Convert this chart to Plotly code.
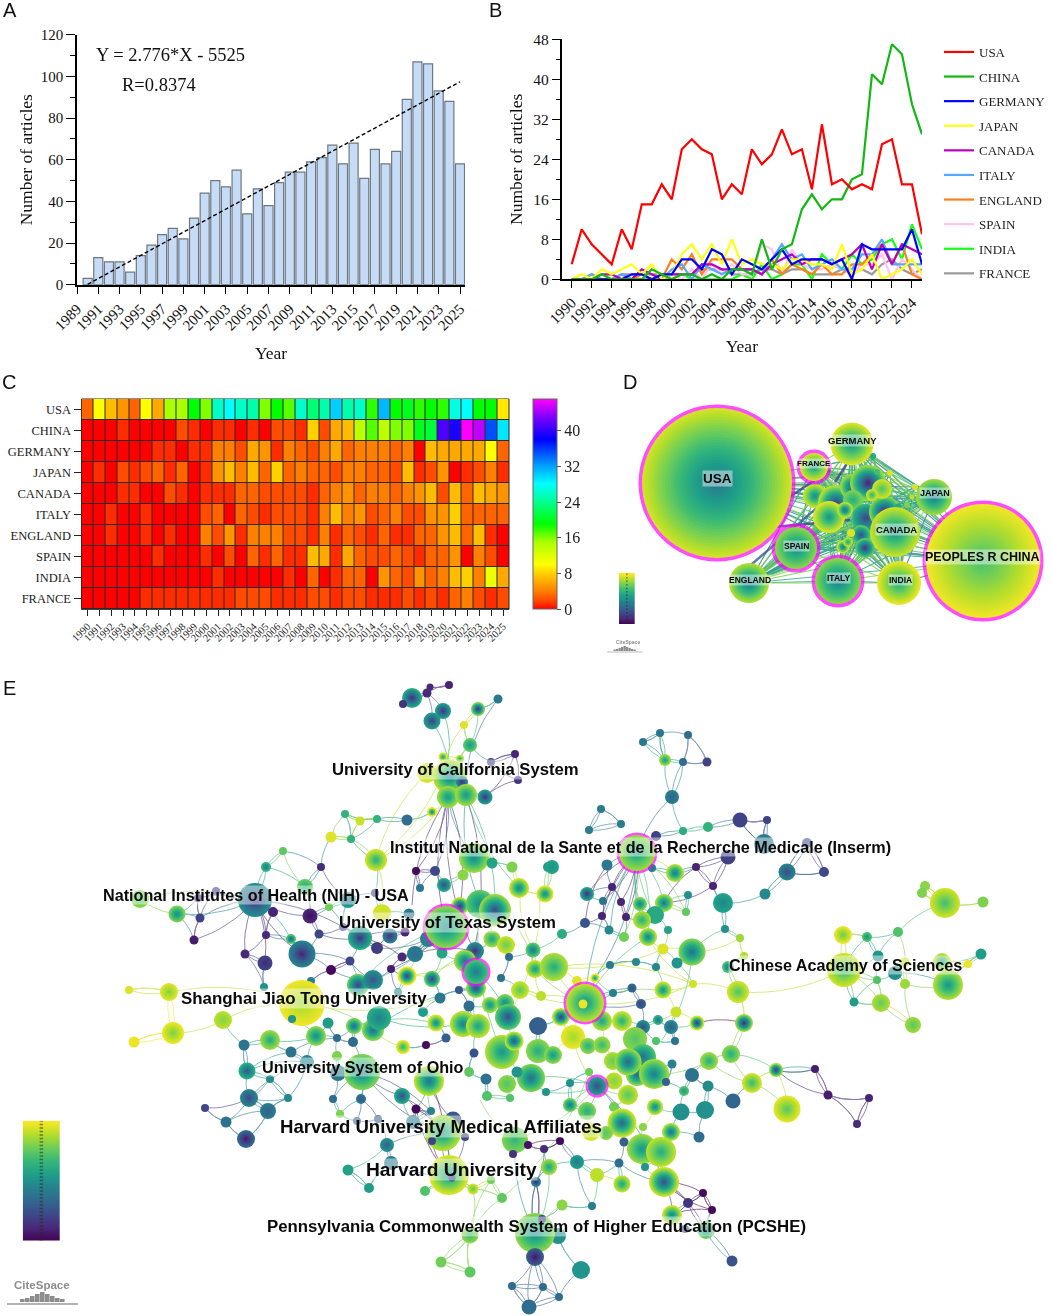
import math
import plotly.graph_objects as go
from plotly.colors import sample_colorscale

W, H = 1052, 1316
SERIF = "Liberation Serif"
SANS = "Liberation Sans"

# ---------- panel A ----------
a_years = list(range(1990, 2026))
a_counts = [3,13,11,11,6,14,19,24,27,22,32,44,50,47,55,34,46,38,49,54,54,59,61,67,58,68,51,65,58,64,89,107,106,93,88,58]
a_trend_x = [1990, 2025]
a_trend_y = [0.2, 97.4]

# ---------- panels B / C ----------
years = list(range(1990, 2026))
usa = [3,10,7,5,3,10,6,15,15,19,16,26,28,26,25,16,19,17,26,23,25,30,25,26,18,31,19,20,18,19,18,27,28,19,19,9]
china = [0,0,0,1,0,0,0,0,2,1,0,1,1,0,1,0,2,2,1,8,2,6,7,14,17,14,16,16,20,21,41,39,47,45,35,29]
germany = [0,0,0,0,0,0,1,1,0,1,1,4,4,2,6,5,1,4,3,2,4,6,3,4,4,4,3,4,0,7,6,6,6,6,10,3]
japan = [0,1,0,2,1,2,3,1,3,0,1,5,7,4,7,3,8,3,4,3,3,2,4,4,3,3,2,7,1,2,5,0,1,2,4,1]
canada = [0,0,0,1,1,0,0,2,1,0,1,1,1,3,3,2,2,2,2,1,3,4,5,3,4,4,3,4,5,7,2,7,3,7,6,5]
italy = [0,0,1,0,0,1,0,0,0,0,2,3,0,3,2,1,2,2,2,1,4,7,4,5,2,3,4,2,2,5,5,8,3,3,3,3]
england = [0,0,1,0,0,1,0,1,0,0,4,2,5,1,4,4,4,2,2,1,4,1,3,2,1,3,1,1,3,3,5,7,3,7,1,0]
spain = [0,0,0,0,0,0,1,0,0,0,1,0,2,0,3,1,3,1,1,7,6,1,6,3,2,2,3,2,1,3,3,5,0,4,2,0]
india = [0,0,0,0,0,0,0,0,0,0,0,1,0,0,0,0,0,1,0,3,0,1,3,3,0,5,3,2,5,3,4,7,8,4,11,6]
france = [0,0,0,0,0,1,1,1,1,1,1,1,1,2,2,2,1,1,1,2,2,1,2,2,1,1,1,2,1,2,1,3,4,2,1,2]
countries = ["USA","CHINA","GERMANY","JAPAN","CANADA","ITALY","ENGLAND","SPAIN","INDIA","FRANCE"]
series = [usa,china,germany,japan,canada,italy,england,spain,india,france]
line_colors = ["#FF0000","#12B812","#0000FF","#FFFF14","#BB00BB","#55A8FF","#FF8014","#FFC4EE","#14FF14","#9A9A9A"]
heat_scale = [[0,"#FF0000"],[1/47,"#FF2C00"],[2/47,"#FF4C00"],[3/47,"#FF6400"],[4/47,"#FF8000"],[5/47,"#FF9400"],[8/47,"#FFD000"],[10/47,"#FFFF00"],[15/47,"#AAFF00"],
              [19/47,"#00FF00"],[24/47,"#00FF90"],[28/47,"#00FFFF"],[32/47,"#00A0FF"],[38/47,"#0000FF"],[43/47,"#8000FF"],[1,"#FF00FF"]]

# ---------- panel D network: x, y, radius, outer tone, inner tone ----------
d_main = [("USA",717,483,75,.93,.4,True),("PEOPLES R CHINA",983,561,57,.98,.7,True),("GERMANY",852,444,21.5,.95,.5,False),
          ("FRANCE",814,467,14,.93,.55,True),("JAPAN",934,497,18,.85,.4,False),("CANADA",895,532,25,.92,.5,False),
          ("SPAIN",796,548,21,.82,.47,True),("ITALY",838,581,23,.82,.42,True),("INDIA",899,583,22,.97,.6,False),
          ("ENGLAND",749,583,20,.88,.4,False)]
d_cluster = [(815,496,12,.92,.45),(836,503,18,.9,.15),(829,517,16,.95,.5),(853,487,13,.85,.2),(868,483,18,.85,.05),(853,500,10,.8,.6),
             (866,518,14,.65,.18),(885,512,16,.82,.05),(882,489,10,.93,.7),(872,495,6,.93,.6),(902,518,6,.9,.6),(898,507,3.5,.6,.6),
             (907,505,3,.8,.8),(861,535,10,.75,.2),(865,548,10,.75,.1),(843,547,6.5,.92,.3),(848,542,5,.9,.5),(851,533,4,.95,.95),
             (890,473,3,.95,.95),(877,472,3,.7,.7),(915,487,3,.95,.95),(912,497,2.5,.9,.9),(873,456,3,.6,.6),(845,510,8,.9,.3),(895,553,4,.6,.6)]
d_labels = [("USA",717,479,13.5),("PEOPLES R CHINA",982,557,12.5),("GERMANY",852,441,9.5),("FRANCE",814,464,8),("JAPAN",935,493,9),
            ("CANADA",896,529,9.5),("SPAIN",796,546,8.5),("ITALY",838,578,8.5),("INDIA",900,580,8.5),("ENGLAND",750,580,8.5)]

# ---------- panel E network: x, y, radius, outer tone, inner tone ----------
e_ucal = [(412,698,10,.6,.1),(427,693,4.5,.12),(430,687,3.5,.12),(449,685,4,.1),(403,704,4,.15),(443,711,8,.55,.1),(432,721,8.5,.55,.15),
          (478,709,7,.8,.05),(498,699,4.5,.4),(464,725,4,.95),(470,745,7,.75,.5),(427,773,10,.95,.85),(443,757,4.5,.95,.45),(460,759,4,.9,.5),
          (450,777,17,.9,.4),(462,782,6,.45,.1),(448,797,11,.85,.5),(466,795,11,.85,.5),(485,797,7.5,.55,.1),(491,762,4,.2),(515,754,4,.1),
          (518,780,4,.15),(432,812,5,.98,.3),(407,820,5.5,.35)]
e_west = [(345,814,4,.65),(360,821,4.5,.92),(377,819,4,.65),(331,837,5.5,.95),(351,839,4,.65),(376,860,11,.93,.6),(283,851,4,.75),(266,867,5,.65,.35),
          (321,867,4,.12),(305,887,8,.75,.6),(435,871,5,.22),(416,871,4,.02),(420,888,4,.4),(444,885,7,.6,.2),(474,858,15,.85,.45),(492,863,5.5,.58),
          (463,875,5.5,.82),(512,867,5.5,.8)]
e_nih = [(255,900,17,.5,.12),(140,899,9,.82,.7),(177,914,8.5,.8,.45),(200,918,4.5,.2),(194,940,4.5,.08),(198,898,4,.12),(216,891,4,.2),(273,912,5,.1),
         (310,916,7.5,.12,.02),(266,935,4,.12),(291,939,5,.72,.2),(302,954,13.5,.45,.08),(245,954,4.5,.12),(265,963,7.5,.2,.12),(319,934,4.5,.22),
         (348,900,8,.55,.3),(375,893,4,.2),(329,907,4,.78),(382,913,9,.93),(409,914,5.5,.4),(343,927,4,.2),(360,938,12,.62,.12),(390,936,7.5,.42,.12),
         (377,948,6,.18),(402,957,4.5,.12),(405,932,4.5,.1),(415,954,8,.42,.35),(350,961,4.5,.22),(331,970,5,.02),(391,969,4,.08),(407,976,9.5,.98,.12),
         (432,979,8,.75,.1),(442,953,5.5,.58),(428,939,8,.45)]
e_texas = [(519,888,10,.92,.4),(545,894,8.5,.95,.42),(548,867,5,.55),(460,906,9,.92,.05),(480,904,14,.75,.45),(495,910,16,.85,.2),
           (475,951,9,.5,.1),(465,961,11,.85,.35),(476,988,10,.85,.15),(358,985,11,.75,.15),(373,980,10,.5,.25),(311,981,4,.45),(264,987,4,.5),
           (169,992,9,.95,.8),(129,990,4,.95),(398,992,4,.48),(302,1003,23,.98,.85),(492,939,8.5,.85,.55),(506,945,9,.92,.75),(562,934,5,.62),
           (533,950,7.5,.75,.35),(535,969,9,.92,.5),(554,967,14,.88,.6),(509,957,4,.35),(520,990,9,.92,.72),(501,978,4,.37),(459,990,4,.28),(440,998,5.5,.4)]
e_centre = [(577,981,5,.95),(595,978,4.5,.98,.4),(541,996,5,.9),(561,1017,9,.92,.1),(602,1021,10,.88,.55),(613,993,4,.45),(610,965,4,.42),(585,923,5,.27),
            (609,930,4.5,.47),(602,916,4,.1),(587,894,7,.58,.08),(490,1005,8,.85,.45),(505,1003,9,.8,.45),(508,1017,13,.75,.2),(469,1006,5.5,.35),
            (436,1023,8.5,.95,.42),(463,1024,13,.9,.4),(478,1026,12,.9,.55),(538,1026,9,.3),(573,1037,12,.97,.85),(588,1046,8,.82,.6),(602,1045,8.5,.85,.65),
            (423,1012,5,.55),(446,1038,4.5,.3),(426,1045,4,.03),(474,1053,4.5,.25),(403,1047,7,.96,.6),(502,1052,17,.88,.5),(514,1041,9.5,.9,.2),
            (538,1051,12,.82,.6),(553,1055,9,.82,.5)]
e_inserm = [(672,797,7,.42,.3),(601,809,4,.42),(621,824,4,.42),(589,830,4,.42),(683,831,4,.62),(708,827,5,.65),(740,820,7.5,.2),(767,820,4,.2),(656,836,5,.2),
            (764,844,10,.42,.35),(807,843,5,.25),(607,865,5.5,.4),(728,857,7.5,.2),(552,867,7,.58,.5),(675,873,9,.88,.35),(652,868,4,.42),(696,867,4,.1),
            (787,872,8.5,.45,.2),(824,872,5,.22),(713,886,4,.1),(612,887,4,.1),(765,894,5.5,.47),(723,903,10,.58,.45),(688,895,4,.5),(664,903,9,.85,.35),
            (640,904,7,.8,.4),(603,901,4,.38),(621,902,4,.1),(626,917,4,.1),(655,915,9,.6),(642,920,9,.88,.6),(686,912,4,.75),(648,937,9,.88,.4),(668,930,4,.58),
            (725,929,4,.5),(624,937,5,.78),(740,938,4,.85),(692,952,13.5,.8,.35),(663,949,5.5,.95),(677,963,5.5,.52),(636,962,4,.47),(656,967,4,.47),(744,956,4,.88),(728,967,6,.72,.35)]
e_north_east = [(665,760,6,.85,.5),(683,762,4,.35),(707,762,4.5,.2),(688,735,4,.35),(660,733,4,.4),(643,742,4,.4)]
e_cas = [(844,970,17,.93,.65),(843,935,9,.97,.75),(867,937,5,.72,.45),(898,932,5,.72),(878,956,5.5,.52),(945,903,15,.93,.68),(925,886,5,.82),(922,893,5,.8),
         (983,902,5.5,.8),(981,954,5.5,.55),(968,964,4,.97),(942,962,9,.9,.5),(905,962,4.5,.92),(895,973,7,.5),(948,985,15,.88,.5),(905,984,5,.85),(877,980,4,.72),
         (854,1002,4.5,.55),(881,1003,9,.87,.75),(913,1025,8,.85,.72)]
e_east = [(738,992,11,.93,.7),(663,990,8.5,.92,.45),(693,984,4,.93),(632,988,4.5,.35,.2),(641,1004,5,.3,.2),(676,1012,5.5,.92),(697,1023,7.5,.95,.02),
          (744,1023,9,.85,.05),(658,1020,5,.65,.3),(643,1027,7,.5,.2),(671,1027,7,.48,.25),(675,1041,4,.38),(635,1039,12,.82,.72),(656,1041,4,.72),(622,1021,10,.92,.6),
          (709,1061,9,.85,.6),(731,1054,9,.82,.6),(776,1070,7,.85,.08),(815,1069,4,.08),(752,1083,10,.93,.65),(828,1095,4.5,.08),(869,1098,4,.1),(787,1109,13.5,.96,.72),
          (857,1124,4,.12),(613,1061,9,.87,.75),(643,1057,13,.72,.35),(637,1075,11,.82,.3),(654,1074,15,.85,.4),(628,1062,13.5,.85,.3),(672,1064,4.5,.45),(692,1075,7,.38),
          (666,1082,4,.3),(708,1086,5.5,.48),(684,1091,5,.72,.5),(733,1101,7.5,.33),(614,1081,8.5,.9,.8),(589,1072,4,.78),(628,1095,10,.9,.72),(531,1078,14,.8,.35),
          (570,1083,4,.5),(546,1092,4,.52),(570,1105,7,.78,.35),(587,1111,9,.8,.6),(614,1107,5,.78),(655,1107,8,.9,.4),(681,1112,8.5,.5),(705,1110,9,.5)]
e_south = [(622,1123,14.5,.93,.3),(643,1127,4,.82),(671,1132,9,.88,.3),(699,1137,5.5,.35),(606,1133,7,.82,.72),(591,1132,9,.95,.85),(624,1142,4.5,.3),(642,1149,15,.85,.5),
           (661,1152,15,.9,.6),(645,1167,4,.52),(619,1163,4.5,.35),(597,1175,7,.9),(622,1184,8.5,.9,.55),(664,1182,15,.93,.2),(577,1162,7,.55,.4),(549,1167,8,.85,.55),
           (515,1140,13,.8,.65),(528,1145,4,.05),(560,1141,4,.02),(544,1149,4,.12),(513,1154,4,.15),(536,1182,5,.45,.02),(562,1205,5.5,.82),(592,1206,4,.42),(502,1198,5,.75),
           (703,1193,4,.03),(712,1210,4,.02),(688,1203,5,.15),(672,1215,10,.93,.4),(706,1230,9,.78,.3),(685,1229,4,.2),(732,1261,5.5,.25),(558,1236,8,.5),(535,1233,20,.82,.45),
           (542,1219,4,.2),(535,1257,9,.3,.03),(581,1270,9,.52),(512,1286,4,.35),(543,1287,4,.35),(559,1297,4,.35),(529,1307,7.5,.35)]
e_ohio = [(223,1020,9,.9,.8),(173,1033,11,.97,.78),(134,1042,5.5,.97),(292,1019,4,.52),(328,1023,5.5,.55),(354,1026,8,.8,.3),(373,1030,11,.82,.3),(379,1018,12,.62,.42),
          (270,1040,10,.85,.58),(316,1036,10,.82,.45),(337,1038,4,.35),(353,1042,5,.35),(244,1045,5.5,.38),(291,1052,5.5,.38),(337,1056,5,.8),(247,1071,8.5,.62,.25),(307,1062,7,.45),
          (338,1073,8,.4),(362,1072,18,.8,.42),(429,1081,15,.9,.35),(469,1072,5,.75),(486,1079,5.5,.37),(507,1084,9,.82,.72),(487,1096,5,.72),(510,1098,4,.72),(517,1072,5.5,.52),
          (270,1079,4,.47),(249,1098,9,.45,.2),(288,1098,4,.47),(268,1111,8,.42,.28),(205,1108,4,.22),(226,1122,5.5,.38),(246,1139,9,.35,.02),(333,1099,4,.35),(361,1099,5,.38,.25),
          (402,1096,8,.6,.2),(340,1114,4,.8),(416,1109,4.5,.02),(431,1111,4,.45),(453,1120,8.5,.28),(413,1122,7,.42),(378,1119,4,.3),(357,1121,4,.3),(443,1133,18,.88,.5),
          (432,1141,4,.2),(465,1137,4,.22),(387,1145,7,.5,.3),(391,1163,7,.42),(348,1170,5.5,.57),(369,1188,5,.55),(449,1175,20,.95,.5),(452,1178,3.5,.2),(425,1191,5,.72),
          (473,1189,5.5,.93,.7),(491,1180,4,.78),(470,1235,8.5,.82,.65),(441,1262,5.5,.78),(470,1272,5.5,.75)]
e_magenta = [(446,927,21,.82,.45),(476,972,12,.7,.4),(585,1003,19,.9,.5),(637,853,18,.85,.55),(597,1086,9,.55,.2)]
e_dots = [(583,1004,4.5,.97)]
# edges: x1, y1, x2, y2, tone
e_edges_north = [(448,797,446,927,.1),(448,797,460,906,.1),(466,795,481,905,.5),(448,797,435,871,.35),(466,795,519,888,.7),(448,797,376,860,.9),(427,773,376,860,.9),(466,795,495,909,.6),
                 (448,797,412,905,.15),(448,797,416,871,.1),(448,797,474,858,.5),(466,795,474,951,.1),(448,797,474,951,.12),(432,721,450,777,.6),(470,745,450,777,.8),(478,709,470,745,.7),
                 (498,699,466,775,.4),(443,711,448,760,.6),(464,725,445,765,.9),(485,797,518,780,.1),(485,797,515,754,.1),(491,762,515,754,.1),(351,839,376,860,.65),(345,814,351,839,.65),
                 (360,821,351,839,.9),(377,819,351,839,.65),(345,814,377,819,.65),(331,837,351,839,.9),(345,814,360,821,.9),(360,821,377,819,.9),(376,860,444,770,.9),(376,860,382,913,.9)]
e_edges_inserm = [(637,853,612,887,.1),(637,853,621,902,.1),(637,853,602,916,.1),(637,853,626,917,.1),(637,853,587,894,.1),(637,853,603,901,.2),(637,853,640,904,.6),(637,853,664,903,.7),
                  (637,853,652,868,.5),(637,853,675,873,.9),(637,853,642,920,.6),(637,853,648,937,.7),(637,853,655,915,.7),(637,853,686,912,.8),(637,853,610,930,.5),(637,853,624,937,.8),
                  (672,797,637,853,.4),(637,853,595,978,.45),(637,853,585,1003,.5),(585,923,607,865,.1),(696,867,664,903,.1),(713,886,664,903,.1),(728,857,696,867,.12),(728,857,713,886,.12),
                  (740,820,764,844,.2),(767,820,740,820,.2),(767,820,764,844,.25),(787,872,807,843,.3),(787,872,824,872,.25),(807,843,824,872,.25),(723,903,765,894,.5),(765,894,787,872,.5),
                  (672,797,683,762,.5),(672,797,665,765,.5),(665,760,643,742,.5),(665,760,660,733,.5),(683,762,688,735,.35),(688,735,707,762,.3),(643,742,660,733,.4),
                  (692,952,725,929,.7),(692,952,740,938,.9)]
e_edges_east = [(844,970,738,992,.95),(738,992,693,984,.95),(693,984,648,937,.95),(844,970,843,935,.9),(844,970,867,937,.6),(867,937,898,932,.6),(898,932,945,903,.7),(945,903,925,886,.8),(945,903,922,893,.8),
                (945,903,983,902,.8),(948,985,981,954,.5),(948,985,895,973,.5),(948,985,905,984,.8),(948,985,905,962,.9),(948,985,942,962,.7),(844,970,854,1002,.6),(844,970,881,1003,.8),
                (881,1003,913,1025,.8),(844,970,877,980,.7),(844,970,878,956,.5),(697,1023,744,1023,.05),(776,1070,815,1069,.08),(815,1069,828,1095,.1),(828,1095,869,1098,.12),(869,1098,857,1124,.12),
                (776,1070,828,1095,.1),(731,1054,776,1070,.7),(709,1061,752,1083,.8),(752,1083,787,1109,.8),(731,1054,752,1083,.85),(709,1061,654,1074,.8),(692,952,677,963,.7),(692,952,662,1040,.7)]
e_edges_south = [(449,1175,443,1133,.1),(449,1175,443,1133,.3),(449,1175,443,1133,.6),(449,1175,432,1141,.15),(449,1175,465,1137,.2),(449,1175,416,1109,.05),(443,1133,416,1109,.05),(429,1081,443,1133,.05),
                 (429,1081,453,1120,.2),(402,1096,443,1133,.2),(362,1072,402,1096,.2),(362,1072,431,1111,.25),(362,1072,443,1133,.3),(387,1145,443,1133,.4),(348,1170,387,1145,.55),(369,1188,348,1170,.5),
                 (391,1163,449,1175,.4),(535,1233,536,1182,.1),(535,1233,536,1182,.3),(535,1233,536,1182,.5),(535,1233,536,1182,.02),(535,1233,562,1205,.8),(535,1233,549,1167,.7),(535,1257,512,1286,.35),
                 (535,1257,543,1287,.35),(535,1257,559,1297,.35),(535,1257,529,1307,.35),(512,1286,529,1307,.35),(512,1286,543,1287,.35),(529,1307,559,1297,.35),(535,1257,535,1233,.3),(535,1233,515,1140,.5),
                 (558,1236,581,1270,.5),(549,1167,577,1162,.55),(577,1162,592,1206,.45),(577,1162,619,1163,.4),(619,1163,664,1182,.4),(664,1182,703,1193,.05),(664,1182,712,1210,.05),(664,1182,688,1203,.1),
                 (688,1203,703,1193,.05),(703,1193,712,1210,.05),(672,1215,688,1203,.1),(672,1215,712,1210,.05),(672,1215,664,1182,.2),(706,1230,732,1261,.3),(706,1230,664,1182,.25),(706,1230,688,1203,.1),
                 (664,1182,597,1086,.3),(470,1235,441,1262,.8),(470,1235,470,1272,.75),(441,1262,470,1272,.75),(491,1180,470,1235,.8),(473,1189,470,1235,.85),(502,1198,470,1235,.8),(473,1189,502,1198,.8),
                 (560,1141,528,1145,.05),(560,1141,544,1149,.05),(528,1145,513,1154,.1),(597,1086,622,1123,.5),(597,1086,570,1105,.7),(597,1086,587,1111,.7),(597,1086,628,1095,.8),(597,1086,589,1072,.8),
                 (597,1086,570,1083,.6),(597,1086,546,1092,.7),(597,1086,531,1078,.7),(597,1086,573,1037,.9),(515,1140,597,1086,.85),(515,1140,480,1100,.85),(502,1198,589,1072,.8)]
e_edges_centre = [(585,1003,520,990,.9),(585,1003,541,996,.9),(585,1003,577,981,.9),(585,1003,561,1017,.9),(585,1003,602,1021,.8),(585,1003,573,1037,.9),(585,1003,554,967,.95),(585,1003,595,978,.7),
                  (585,1003,535,969,.8),(585,1003,613,993,.45),(585,1003,632,988,.4),(585,1003,641,1004,.3),(585,1003,663,990,.8),(585,1003,693,984,.95),(585,1003,648,937,.7),(554,967,663,949,.95),
                  (554,967,693,984,.95),(302,1003,223,1020,.95),(223,1020,173,1033,.9),(173,1033,134,1042,.95),(302,1003,373,1030,.8),(169,992,129,990,.95),(169,992,302,1003,.95),(302,1003,440,998,.9),
                  (373,1030,476,988,.6),(379,1018,463,1024,.6),(354,1026,436,1023,.7),(270,1040,316,1036,.65),(244,1045,247,1071,.4),(291,1052,247,1071,.5),(291,1052,337,1038,.4),(337,1038,354,1026,.4),
                  (353,1042,362,1072,.4),(337,1056,362,1072,.8),(333,1099,362,1072,.4),(361,1099,362,1072,.4),(307,1062,288,1098,.45),(307,1062,249,1098,.5),(249,1098,268,1111,.45),(249,1098,288,1098,.5),
                  (268,1111,288,1098,.45),(226,1122,249,1098,.4),(226,1122,268,1111,.4),(226,1122,246,1139,.4),(268,1111,246,1139,.4),(205,1108,249,1098,.25),(247,1071,307,1062,.5),(249,1098,270,1079,.5),
                  (270,1079,288,1098,.5),(255,900,198,898,.2),(255,900,216,891,.2),(255,900,200,918,.35),(255,900,194,940,.2),(255,900,273,912,.12),(255,900,266,935,.12),(255,900,302,954,.15),(255,900,265,963,.15),
                  (255,900,245,954,.12),(255,900,177,914,.5),(255,900,140,899,.8),(255,900,291,939,.6),(255,900,310,916,.2),(255,900,360,938,.2),(283,851,305,887,.75),(266,867,305,887,.6),(321,867,348,900,.2),
                  (302,954,350,961,.3),(319,934,360,938,.2),(360,938,405,932,.2),(360,938,377,948,.2),(360,938,402,957,.15),(402,957,446,927,.2),(415,954,446,927,.3),(377,948,428,939,.3),(415,954,474,951,.2),
                  (391,969,446,927,.15),(331,970,350,961,.15),(350,961,373,980,.3),(302,954,331,970,.3),(331,970,373,980,.4),(358,985,446,927,.7),(373,980,446,927,.6),(407,976,446,927,.8),(432,979,446,927,.7),
                  (432,979,474,951,.8),(407,976,474,951,.9),(476,1024,476,988,.7),(508,1017,476,972,.6),(500,905,535,969,.8),(520,890,533,950,.9),(540,895,508,1017,.95),(480,905,502,1052,.7)]
e_labels = [("University of California System",455,769,16.7),("Institut National de la Sante et de la Recherche Medicale (Inserm)",640,847,16.2),
            ("National Institutes of Health (NIH) - USA",256,895,16.2),("University of Texas System",447,922,16.8),("Chinese Academy of Sciences",845.5,965,16.2),
            ("Shanghai Jiao Tong University",303.5,998,16.9),("University System of Ohio",362.5,1067,16.2),("Harvard University Medical Affiliates",441,1126,18.6),
            ("Harvard University",451.5,1169,19.2),("Pennsylvania Commonwealth System of Higher Education (PCSHE)",536,1226,16.8)]
ramp = [0,.05,.1,.15,.2,.25,.3,.35,.4,.45,.5,.55,.6,.65,.7,.75,.8,.85,.9,.95,1]
logo_bars = [3,4,6,8,10,8,6,4,3]


def xdom(a, b): return [a / W, b / W]
def ydom(a, b): return [1 - b / H, 1 - a / H]
def px(x): return x / W
def py(y): return 1 - y / H

fig = go.Figure()

# ---- A
fig.add_trace(go.Bar(x=a_years, y=a_counts, width=0.85, marker=dict(color="#C6DCF6", line=dict(color="#6E7882", width=1.2)),
                     showlegend=False, xaxis="x", yaxis="y"))
fig.add_trace(go.Scatter(x=a_trend_x, y=a_trend_y, mode="lines", line=dict(color="black", width=1.4, dash="4px,2.5px"),
                         showlegend=False, xaxis="x", yaxis="y"))
# ---- B (drawn last-to-first so USA stays on top; legendrank keeps the legend order)
for i in reversed(range(len(countries))):
    fig.add_trace(go.Scatter(x=years, y=series[i], mode="lines", name=countries[i], legendgroup=countries[i], legendrank=i + 1,
                             line=dict(color=line_colors[i], width=2.2), xaxis="x2", yaxis="y2", cliponaxis=False))
# ---- C
fig.add_trace(go.Heatmap(x=years, y=countries, z=series, zmin=0, zmax=47, colorscale=heat_scale, xgap=1, ygap=1, xaxis="x3", yaxis="y3",
                         colorbar=dict(x=px(533), xanchor="left", xpad=0, y=py(609.3), yanchor="bottom", ypad=0, lenmode="pixels", len=210.3,
                                       thicknessmode="pixels", thickness=24, tickvals=[0,8,16,24,32,40], ticks="outside", ticklen=4,
                                       tickcolor="#555", outlinecolor="#666", outlinewidth=1, tickfont=dict(family=SERIF, size=16, color="#222"))))


def ring_markers(nodes):
    xs, ys, sizes, tones = [], [], [], []
    for n in nodes:
        x, y, r, t_out = n[:4]
        t_in = n[4] if len(n) > 4 else t_out
        steps = 1 if t_in == t_out else max(3, min(int(r / 1.4), 26))
        for k in range(steps):
            f = k / steps
            xs.append(x); ys.append(y)
            sizes.append(2 * r * (1 - f))
            tones.append(t_out + (t_in - t_out) * f)
    return xs, ys, sizes, sample_colorscale("Viridis", tones)


def add_nodes(nodes, xa, ya):
    xs, ys, sizes, colors = ring_markers(nodes)
    fig.add_trace(go.Scatter(x=xs, y=ys, mode="markers", showlegend=False, hoverinfo="skip", cliponaxis=False, xaxis=xa, yaxis=ya,
                             marker=dict(size=sizes, sizemode="diameter", color=colors, line=dict(width=0), opacity=1)))


def add_edges(edges, xa, ya, width, bend, alpha=0.8):
    buckets = {}
    for k, (x1, y1, x2, y2, t) in enumerate(edges):
        key = round(t / 0.1) * 0.1
        b = buckets.setdefault(key, ([], []))
        dx, dy = x2 - x1, y2 - y1
        sign = 1 if k % 2 else -1
        cx, cy = (x1 + x2) / 2 - dy * bend * sign, (y1 + y2) / 2 + dx * bend * sign
        for s in range(9):
            u = s / 8
            b[0].append((1 - u) ** 2 * x1 + 2 * u * (1 - u) * cx + u * u * x2)
            b[1].append((1 - u) ** 2 * y1 + 2 * u * (1 - u) * cy + u * u * y2)
        b[0].append(None); b[1].append(None)
    for key, (xs, ys) in sorted(buckets.items()):
        fig.add_trace(go.Scatter(x=xs, y=ys, mode="lines", showlegend=False, hoverinfo="skip", cliponaxis=False, xaxis=xa, yaxis=ya, opacity=alpha,
                                 line=dict(color=sample_colorscale("Viridis", [min(key, 1)])[0], width=width)))


# ---- D
d_nodes_main = [m[1:6] for m in d_main]
d_edges = []
for i, m in enumerate(d_nodes_main):
    for j, c in enumerate(d_cluster):
        d_edges.append((m[0], m[1], c[0], c[1], [.4, .55, .7, .85, .5][(i + j) % 5]))
    for j in range(i + 1, len(d_nodes_main)):
        o = d_nodes_main[j]
        if m[2] < 70 and o[2] < 70:
            d_edges.append((m[0], m[1], o[0], o[1], [.45, .6, .8][(i + j) % 3]))
add_edges(d_edges, "x4", "y4", 1.1, 0)
add_edges([(740, 530, 850, 520, .25), (770, 510, 830, 470, .25), (745, 570, 826, 500, .3), (835, 482, 848, 462, .25)], "x4", "y4", 2.4, 0)
add_nodes(d_cluster, "x4", "y4")
fig.add_trace(go.Scatter(x=[m[1] for m in d_main if m[6]], y=[m[2] for m in d_main if m[6]], mode="markers", showlegend=False, hoverinfo="skip", cliponaxis=False,
                         xaxis="x4", yaxis="y4", marker=dict(size=[2 * m[3] + 7 for m in d_main if m[6]], color="#FF00FF", line=dict(width=0))))
add_nodes(d_nodes_main, "x4", "y4")

# ---- E
plain_e = e_ucal + e_west + e_nih + e_texas + e_centre + e_inserm + e_north_east + e_cas + e_east + e_south + e_ohio
all_e = plain_e + e_magenta
auto_edges = []
for i, n in enumerate(all_e):
    near = sorted((math.hypot(n[0] - o[0], n[1] - o[1]), j) for j, o in enumerate(all_e) if j != i)[:2]
    for d, j in near:
        if d < 42:
            o = all_e[j]
            auto_edges.append((n[0], n[1], o[0], o[1], (n[3] + o[3]) / 2))
add_edges(auto_edges + e_edges_north + e_edges_inserm + e_edges_east + e_edges_south + e_edges_centre, "x5", "y5", 0.9, 0.14, 0.65)
add_nodes(plain_e, "x5", "y5")
fig.add_trace(go.Scatter(x=[n[0] for n in e_magenta], y=[n[1] for n in e_magenta], mode="markers", showlegend=False, hoverinfo="skip", cliponaxis=False,
                         xaxis="x5", yaxis="y5", marker=dict(size=[2 * n[2] + 5 for n in e_magenta], color="#FF00FF", line=dict(width=0))))
add_nodes(e_magenta + e_dots, "x5", "y5")

# ---- small colour bars
for xa, ya in (("x6", "y6"), ("x7", "y7")):
    fig.add_trace(go.Heatmap(z=[[v] for v in ramp], y=ramp, x=[0], colorscale="Viridis", zmin=0, zmax=1, showscale=False, zsmooth="best",
                             hoverinfo="skip", xaxis=xa, yaxis=ya))
    fig.add_trace(go.Scatter(x=[0, 0], y=[0, 1], mode="lines", showlegend=False, hoverinfo="skip", xaxis=xa, yaxis=ya,
                             line=dict(color="rgba(40,40,40,0.55)", width=3.5 if xa == "x7" else 1.5, dash="1.5px,2px")))

hidden = dict(visible=False, fixedrange=True)
axis_line = dict(showline=True, linecolor="black", linewidth=1.5, ticks="outside", tickcolor="black", tickwidth=1.4, showgrid=False, zeroline=False)
shapes = [dict(type="rect", xref="paper", yref="paper", x0=px(81.5), x1=px(509), y0=py(609.3), y1=py(399), fillcolor="#2b2b2b",
               line=dict(color="#222", width=1), layer="below")]
# CiteSpace logo marks
for ox, oy, sc in ((20, 1302, 1.0), (613.5, 651, 0.5)):
    for k, h in enumerate(logo_bars):
        shapes.append(dict(type="rect", xref="paper", yref="paper", x0=px(ox + k * 5 * sc), x1=px(ox + (k + 1) * 5 * sc - 0.4 * sc), y0=py(oy), y1=py(oy - h * sc),
                           fillcolor="#8d8d8d", line=dict(width=0)))
    shapes.append(dict(type="line", xref="paper", yref="paper", x0=px(ox - 13 * sc), x1=px(ox + 58 * sc), y0=py(oy + 2 * sc), y1=py(oy + 2 * sc), line=dict(color="#9a9a9a", width=1.3 * sc)))

ann = []
centre = dict(xanchor="center", yanchor="middle", showarrow=False)
for letter, x, y in (("A", 10, 10), ("B", 495, 10), ("C", 9, 382), ("D", 630, 382), ("E", 9, 688)):
    ann.append(dict(text=letter, x=px(x), y=py(y), xref="paper", yref="paper", font=dict(family=SANS, size=20, color="#111"), **centre))
ann.append(dict(text="Y = 2.776*X - 5525", x=px(170), y=py(55), xref="paper", yref="paper", font=dict(family=SERIF, size=18.5, color="#111"), **centre))
ann.append(dict(text="R=0.8374", x=px(159), y=py(85), xref="paper", yref="paper", font=dict(family=SERIF, size=18.5, color="#111"), **centre))
for t, x, y, s in d_labels:
    ann.append(dict(text="<b>%s</b>" % t, x=x, y=y, xref="x4", yref="y4", bgcolor="rgba(255,255,255,0.45)", borderpad=0,
                    font=dict(family=SANS, size=s, color="#0a0a0a"), **centre))
for t, x, y, s in e_labels:
    ann.append(dict(text="<b>%s</b>" % t, x=x, y=y, xref="x5", yref="y5", bgcolor="rgba(255,255,255,0.45)", borderpad=0,
                    font=dict(family=SANS, size=s, color="#0a0a0a"), **centre))
ann.append(dict(text="<b>CiteSpace</b>", x=px(42), y=py(1285), xref="paper", yref="paper", font=dict(family=SANS, size=11.5, color="#8d8d8d"), **centre))
ann.append(dict(text="<b>CiteSpace</b>", x=px(627.5), y=py(642), xref="paper", yref="paper", font=dict(family=SANS, size=5, color="#8d8d8d"), **centre))

fig.update_layout(
    width=W, height=H, margin=dict(l=0, r=0, t=0, b=0, autoexpand=False), paper_bgcolor="white", plot_bgcolor="rgba(0,0,0,0)", autosize=False,
    font=dict(family=SERIF, color="#222"), shapes=shapes, annotations=ann,
    legend=dict(x=px(939), y=py(37), xanchor="left", yanchor="top", traceorder="grouped", tracegroupgap=4.7, itemwidth=30,
                font=dict(family=SERIF, size=13, color="#222"), bgcolor="rgba(0,0,0,0)"),
    xaxis=dict(domain=xdom(77, 465), range=[1989, 2025.47], tick0=1989, dtick=2, tickangle=-45, ticklen=8, tickfont=dict(family=SERIF, size=15, color="#111"),
               title=dict(text="Year", font=dict(family=SERIF, size=17.5, color="#111"), standoff=14), **axis_line),
    yaxis=dict(domain=ydom(34.7, 284.7), range=[0, 120], dtick=20, ticklen=9, tickfont=dict(family=SERIF, size=15, color="#111"),
               minor=dict(dtick=10, ticks="outside", ticklen=5, tickcolor="black", tickwidth=1.4),
               title=dict(text="Number of articles", font=dict(family=SERIF, size=17.5, color="#111"), standoff=4), **axis_line),
    xaxis2=dict(domain=xdom(561.7, 922), range=[1989, 2025], tick0=1990, dtick=2, tickangle=-45, ticklen=7, tickfont=dict(family=SERIF, size=15, color="#111"),
                anchor="y2", title=dict(text="Year", font=dict(family=SERIF, size=17.5, color="#111"), standoff=14), **axis_line),
    yaxis2=dict(domain=ydom(39.3, 279.3), range=[0, 48], dtick=8, ticklen=8, tickfont=dict(family=SERIF, size=15.5, color="#111"), anchor="x2",
                minor=dict(dtick=4, ticks="outside", ticklen=4, tickcolor="black", tickwidth=1.4),
                title=dict(text="Number of articles", font=dict(family=SERIF, size=17.5, color="#111"), standoff=6), **axis_line),
    xaxis3=dict(domain=xdom(81.5, 509), range=[1989.5, 2025.5], tickvals=years, tickangle=-45, ticklen=6, tickfont=dict(family=SERIF, size=10.5, color="#222"),
                anchor="y3", showline=False, ticks="outside", tickcolor="#222", showgrid=False, zeroline=False),
    yaxis3=dict(domain=ydom(399, 609.3), autorange="reversed", ticklen=7, tickfont=dict(family=SERIF, size=12.5, color="#222"), anchor="x3",
                showline=False, ticks="outside", tickcolor="#222", showgrid=False, zeroline=False),
    xaxis4=dict(domain=xdom(600, 1052), range=[600, 1052], anchor="y4", **hidden),
    yaxis4=dict(domain=ydom(370, 660), range=[660, 370], anchor="x4", **hidden),
    xaxis5=dict(domain=xdom(0, 1052), range=[0, 1052], anchor="y5", **hidden),
    yaxis5=dict(domain=ydom(660, 1316), range=[1316, 660], anchor="x5", **hidden),
    xaxis6=dict(domain=xdom(619, 634.7), range=[-.5, .5], anchor="y6", **hidden),
    yaxis6=dict(domain=ydom(573, 624), range=[0, 1], anchor="x6", **hidden),
    xaxis7=dict(domain=xdom(22.7, 60), range=[-.5, .5], anchor="y7", **hidden),
    yaxis7=dict(domain=ydom(1120.7, 1240.7), range=[0, 1], anchor="x7", **hidden),
)
fig.write_html("out.html", config={"displayModeBar": False},
               post_script="document.body.style.margin='0';document.documentElement.style.overflow='hidden';")
